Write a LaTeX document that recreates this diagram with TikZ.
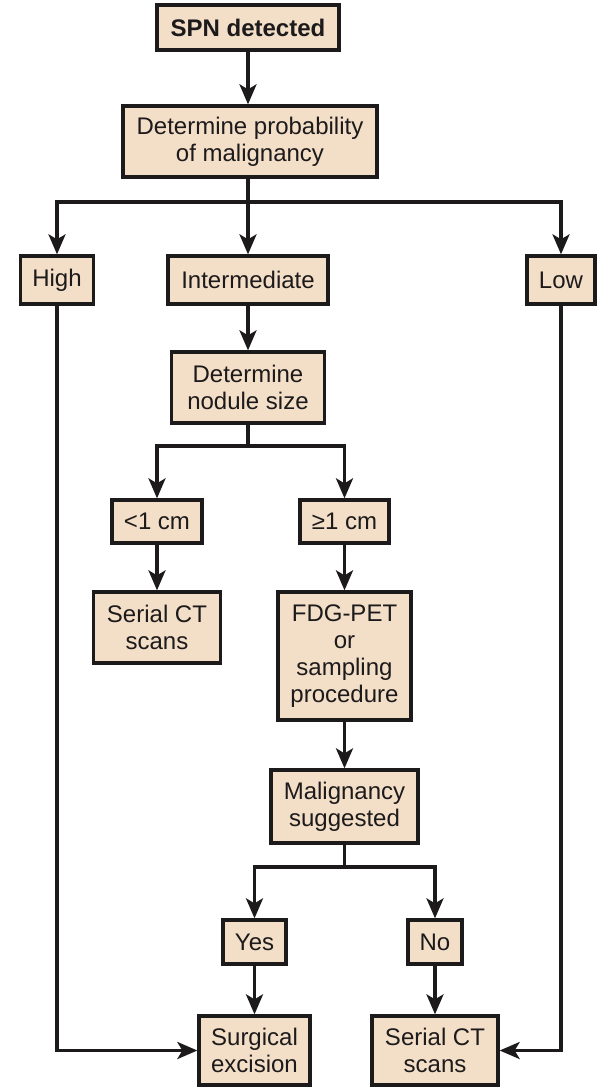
\documentclass[tikz,border=0pt]{standalone}
\usepackage{fontspec}
\setmainfont{Liberation Sans}
\usetikzlibrary{arrows.meta}
\definecolor{boxfill}{RGB}{243,222,200}
\definecolor{ink}{RGB}{28,26,26}
\tikzset{
  box/.style={draw=ink, line width=3.3pt, fill=boxfill, inner sep=0pt, align=center,
    font=\fontsize{24}{27}\selectfont, text=ink},
  conn/.style={draw=ink, line width=3.2pt},
  arr/.style={conn, -{Stealth[length=20pt,width=17pt,inset=5pt]}},
}
\begin{document}
\begin{tikzpicture}[x=1pt,y=-1pt]
\useasboundingbox (0,0) rectangle (603,1087);
\node[box, minimum width=182, minimum height=45, font=\fontsize{24}{27}\selectfont\bfseries] (spn) at (248,27.5) {SPN detected};
\node[box, minimum width=254, minimum height=71] (prob) at (250,141.5) {Determine probability\\of malignancy};
\node[box, minimum width=73, minimum height=48] (high) at (57,280) {High};
\node[box, minimum width=160, minimum height=48] (inter) at (248,280) {Intermediate};
\node[box, minimum width=68, minimum height=48] (low) at (561,280) {Low};
\node[box, minimum width=153, minimum height=71] (nod) at (248,387.5) {Determine\\nodule size};
\node[box, minimum width=90, minimum height=43] (lt) at (157,521.5) {<1 cm};
\node[box, minimum width=89, minimum height=43] (ge) at (344.5,521.5) {≥1 cm};
\node[box, minimum width=127, minimum height=71] (ctl) at (157,627.5) {Serial CT\\scans};
\node[box, minimum width=133, minimum height=128] (fdg) at (344.5,656) {FDG-PET\\or\\sampling\\procedure};
\node[box, minimum width=147, minimum height=73] (mal) at (344.5,806.5) {Malignancy\\suggested};
\node[box, minimum width=63, minimum height=44] (yes) at (254.5,942) {Yes};
\node[box, minimum width=54, minimum height=44] (no) at (435,942) {No};
\node[box, minimum width=111, minimum height=69] (surg) at (254.5,1050.5) {Surgical\\excision};
\node[box, minimum width=126, minimum height=69] (ctr) at (435,1050.5) {Serial CT\\scans};
\coordinate (b1) at (248,202);
\coordinate (b2) at (248,446);
\coordinate (b3) at (344.5,867);
\draw[arr] (spn) -- (spn |- prob.north);
\draw[conn] (b1 |- prob.south) -- (b1);
\draw[arr] (b1) -| (high.north);
\draw[arr] (b1) -- (inter.north);
\draw[arr] (b1) -| (low.north);
\draw[arr] (inter) -- (nod);
\draw[conn] (nod.south) -- (b2);
\draw[arr] (b2) -| (lt.north);
\draw[arr] (b2) -| (ge.north);
\draw[arr] (lt) -- (ctl);
\draw[arr] (ge) -- (fdg);
\draw[arr] (fdg) -- (mal);
\draw[conn] (mal.south) -- (b3);
\draw[arr] (b3) -| (yes.north);
\draw[arr] (b3) -| (no.north);
\draw[arr] (yes) -- (surg);
\draw[arr] (no) -- (ctr);
\draw[arr] (high.south) |- (surg.west);
\draw[arr] (low.south) |- (ctr.east);
\end{tikzpicture}
\end{document}
